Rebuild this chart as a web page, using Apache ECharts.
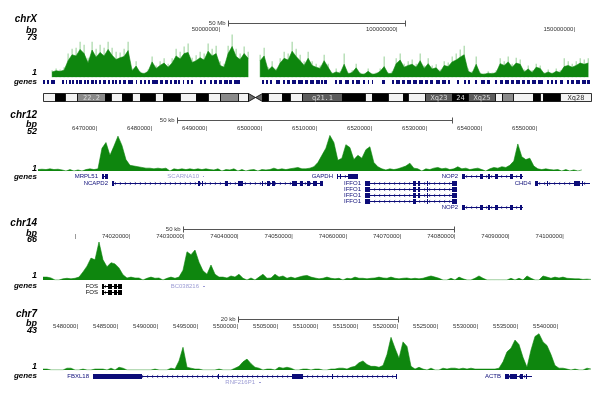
<!DOCTYPE html>
<html><head><meta charset="utf-8">
<script src="https://cdn.jsdelivr.net/npm/echarts@6/dist/echarts.min.js"></script>
<style>html,body{margin:0;padding:0;background:#fff}#c{width:607px;height:395px}</style>
</head><body><div id="c"></div>
<script>
// ---------------- DATA ----------------
// chrX (positions in Mb)
const chrXBinStart = 2.7, chrXBinSize = 1.127;
const chrXDark = [9,11,10,12,28,38,36,47,40,24, 46,34,42,36,47,37,30,33,35,45, 11,19,8,6,10,26,15,20,24,17, 24,36,31,40,42,25,28,33,29,44,
  36,40,20,17,40,52,35,30,40,32, null,null,28,36,12,18,11,24,32,29, 44,35,28,20,32,20,17,15,28,17, 6,9,7,22,6,8,16,6,5,10,
  5,6,10,18,6,7,23,29,17,20, 22,17,28,15,23,14,16,9,20,18, 26,29,34,38,10,7,22,6,5,7, 6,8,23,20,26,17,24,22,9,14,
  8,17,15,6,9,6,10,8,18,20, 17,20,24,22,24];
const chrXLight = [12,15,13,17,40,48,50,60,55,33, 60,48,55,50,60,50,43,42,48,60, 15,27,10,8,13,35,20,27,32,23, 32,48,43,52,57,33,37,43,40,57,
  48,53,27,23,53,72,48,40,52,43, null,null,38,50,17,27,15,32,43,40, 60,48,38,27,43,27,23,20,38,23, 8,15,10,40,8,12,23,8,7,15,
  7,8,15,35,8,10,32,40,23,27, 30,23,40,20,32,20,22,13,27,25, 35,40,47,53,15,10,35,8,7,10, 8,12,32,27,35,23,33,30,13,20,
  12,23,20,8,13,8,15,12,32,27, 23,27,32,30,32];
const chrXTicks = [50, 100, 150];
const chrXScale = [52.25, 102.25, '50 Mb'];
const chrXGeneBlocks = [[0.14,0.7],[1.27,1.83],[2.4,3.5],
  [5.5,6.1],[6.6,6.9],[7.5,8.0],[8.3,8.9],[9.4,10.0],[10.3,11.1],[11.7,12.3],[12.5,13.1],[13.7,14.5],[14.8,15.4],[15.9,16.5],[17.0,17.9],[18.5,19.0],[19.6,20.1],[20.4,21.0],
  [21.5,22.1],[22.7,23.5],[24.1,25.5],[26.3,26.6],
  [27.5,28.0],[28.6,29.2],[29.7,30.3],[30.8,32.5],[33.1,33.9],[34.5,35.4],[35.9,36.5],[37.0,37.9],[38.2,38.7],
  [39.6,39.9],[40.7,41.3],[41.8,42.4],[44.4,44.9],[45.5,46.1],
  [47.2,47.7],[48.3,49.2],[49.7,50.6],[51.1,52.3],[52.5,53.4],[53.9,55.6],
  [61.8,62.4],[62.95,63.5],[64.1,64.6],[65.8,66.9],
  [67.7,68.3],[68.9,69.7],[70.3,71.4],[72.0,73.4],[73.9,74.8],[75.4,76.5],[77.1,78.2],[78.5,78.9],[79.3,80.1],
  [82.4,82.96],[83.5,84.4],[85.2,86.3],[87.2,87.7],[88.3,89.4],
  [90.3,90.8],[91.7,91.97],[92.8,93.1],[95.6,96.5],
  [98.5,99.0],[99.6,100.7],[101.3,102.1],[102.7,103.8],[104.4,105.5],[106.1,107.2],[107.7,108.6],[109.2,110.0],[110.8,112.0],[112.5,113.7],[114.2,114.8],
  [116.8,117.3],[118.7,119.3],[119.9,120.4],[121.8,122.4],[123.5,124.6],[125.2,126.1],
  [127.5,128.0],[128.9,129.7],[130.3,131.4],[132.0,132.8],[133.4,134.5],[135.1,135.9],[136.5,137.3],[137.9,139.0],[139.6,141.0],
  [142.1,142.7],[143.2,143.8],[144.4,144.9],[145.8,146.6],
  [147.7,148.3],[148.9,149.7],[150.3,151.4],[152.0,153.1],[153.4,154.2]];
const chrXBands = [
  [0,3.5,'gneg',''],[3.5,6.3,'gpos100',''],[6.3,9.7,'gneg',''],[9.7,17.6,'gpos50','22.2'],[17.6,19.3,'gpos100',''],
  [19.3,22.4,'gneg',''],[22.4,25.2,'gpos100',''],[25.2,27.5,'gneg',''],[27.5,31.7,'gpos100',''],[31.7,33.9,'gneg',''],
  [33.9,38.7,'gpos100',''],[38.7,43.2,'gneg',''],[43.2,46.6,'gpos100',''],[46.6,50.0,'gneg',''],[50.0,55.1,'gpos50',''],
  [55.1,57.9,'gneg',''],[57.9,61.8,'acen',''],[61.8,63.5,'gpos100',''],[63.5,67.5,'gneg',''],[67.5,69.7,'gpos100',''],
  [69.7,73.1,'gneg',''],[73.1,84.4,'gpos75','q21.1'],[84.4,90.8,'gpos100',''],[90.8,92.8,'gneg',''],[92.8,97.3,'gpos100',''],
  [97.3,101.5,'gneg',''],[101.5,102.9,'gpos100',''],[102.9,107.7,'gneg',''],[107.7,115.4,'gpos75','Xq23'],[115.4,119.9,'gpos100','24'],
  [119.9,127.5,'gpos75','Xq25'],[127.5,129.4,'gneg',''],[129.4,132.5,'gpos50',''],[132.5,138.2,'gneg',''],[138.2,140.1,'gpos100',''],
  [140.1,141.0,'gneg',''],[141.0,145.8,'gpos100',''],[145.8,154.5,'gneg','Xq28']];

// chr12
const chr12BinStart = 6459273, chr12BinSize = 727;
const chr12Vals = [2,2.5,2,3,2,2.5,1.5,0,2,0, 1.5,0,2,3,2,3,32,40,22,35, 49,36,16,8,7,6,5,4,4,3, 4,3,4,0,3,2,3,2,3,2,
  3,2,3,2,1.5,3,0,2,1.5,3, 0,2,0,1.5,2,0,2,1.5,2,4, 2,3,2,3,4,5,3,3,4,6, 12,22,32,50,40,15,18,37,33,16,
  22,18,30,34,12,6,3,1.5,3,2, 3,5,7,11,4,3,0,3,2,4, 5,3,4,2,3,6,3,4,2,3, 4,2,0,3,5,4,6,5,8,14,
  38,20,16,18,7,3,2,3,2,1.5, 2,0,2,0,1.5,0,1.5];
const chr12Ticks = [6470000,6480000,6490000,6500000,6510000,6520000,6530000,6540000,6550000];
const chr12Scale = [6484545, 6534545, '50 kb'];
const chr12Genes = [
  ['MRPL51', 6470909, 6472000, 1, 'b', '-', [[6470909,6471273],[6471455,6472000]]],
  ['SCARNA10', 6489273, 6489500, 1, 'f', '+', []],
  ['NCAPD2', 6472727, 6511091, 2, 'b', '+', [[6472727,6473091],[6488364,6488727],[6489091,6489273],[6493273,6493818],[6495636,6496545],[6500000,6500182],[6500909,6501455],[6501818,6502364],[6505455,6506364],[6506909,6507455],[6508182,6508727],[6509273,6510000],[6510545,6511091]]],
  ['GAPDH', 6513636, 6517455, 1, 'b', '+', [[6513636,6513818],[6514182,6514364],[6515636,6517455]]],
  ['IFFO1', 6518727, 6535455, 2, 'b', '-', [[6518727,6519636],[6527455,6528000],[6528364,6528727],[6530000,6530182],[6534545,6535455]]],
  ['IFFO1', 6518727, 6535455, 3, 'b', '-', [[6518727,6519636],[6527455,6528000],[6528364,6528727],[6530000,6530182],[6534545,6535455]]],
  ['IFFO1', 6518727, 6535455, 4, 'b', '-', [[6518727,6519636],[6527455,6528000],[6528364,6528727],[6530000,6530182],[6534545,6535455]]],
  ['IFFO1', 6518727, 6535455, 5, 'b', '-', [[6518727,6519636],[6527455,6528000],[6530000,6530182],[6534545,6535455]]],
  ['NOP2', 6536364, 6547455, 1, 'b', '-', [[6536364,6536909],[6539636,6540182],[6541091,6541455],[6542364,6542909],[6545091,6545636],[6546909,6547273]]],
  ['NOP2', 6536364, 6547455, 6, 'b', '-', [[6536364,6536909],[6539636,6540182],[6541091,6541455],[6542364,6542909],[6545091,6545636],[6546909,6547273]]],
  ['CHD4', 6549636, 6559636, 2, 'b', '-', [[6549636,6550182],[6551818,6552000],[6556727,6557818],[6558182,6558364]]]
];

// chr14
const chr14BinStart = 74003911, chr14BinSize = 738;
const chr14Vals = [5,5,3.5,0,0,2,3,2,3,5, 14,24,38,35,66,35,23,30,28,21, 9,3.5,5,3.5,3.5,0,3,5,3,3.5, 0,3,5,3,5,17,49,44,52,31,
  16,10,26,10,5,5,3.5,7,5,10, 3,0,3.5,0,5,10,3,3.5,10,5, 7,3,5,3,5,7,8,5,3.5,2, 3,5,3,2,3,0,3,2,5,3,
  3,2,3,3.5,5,3.5,3,5,3,2, 3,3.5,2,3,2,3,5,7,5,3, 0,0,3,0,5,2,0,0,3,7, 3,0,0,0,0,0,0,3,0,3,
  0,7,3,0,0,7,5,3,5,3.5, 5,3,2.5,2,2,1,1.5,1];
const chr14Ticks = [74010000,74020000,74030000,74040000,74050000,74060000,74070000,74080000,74090000,74100000];
const chr14Scale = [74029742, 74079742, '50 kb'];
const chr14Genes = [
  ['FOS', 74014797, 74018487, 1, 'k', '+', [[74014797,74015166],[74015904,74016642],[74017011,74017565],[74017749,74018487]]],
  ['FOS', 74014797, 74018487, 2, 'k', '+', [[74014797,74015166],[74015904,74016642],[74017011,74017565],[74017749,74018487]]],
  ['BC038216', 74033432, 74033800, 1, 'f', '+', []]
];

// chr7
const chr7BinStart = 5475625, chr7BinSize = 500;
const chr7Vals = [1,1,0,0,0,0,2,2,0,0, 1,0,0,1,1,1,0,2,0,3, 2,0,0,0,0,0,0,0,1,0, 0,0,2,1,10,25,3,2,1,1,
  0,0,0,0,1,0,0,0,2,4, 9,12,7,3,2,0,1,1,0,3, 2,3,2,0,0,1,1,0,1,1, 0,0,1,1,2,2,1,3,4,8,
  10,6,4,4,3,5,17,36,24,13, 31,26,4,1,3,1,0,2,0,0, 2,1,2,2,1,2,1,2,1,1, 1,1,1,1,2,9,20,24,33,28,
  14,3,22,37,40,31,27,17,5,2, 2,1,0,1,0,0,2,1];
const chr7Ticks = [5480000,5485000,5490000,5495000,5500000,5505000,5510000,5515000,5520000,5525000,5530000,5535000,5540000];
const chr7Scale = [5500000, 5520000, '20 kb'];
const chr7Genes = [
  ['FBXL18', 5481875, 5519875, 1, 'b', '-', [[5481875,5488000],[5497500,5497625],[5506750,5508125],[5511750,5511875],[5519750,5519875]]],
  ['RNF216P1', 5502625, 5502900, 2, 'f', '-', []],
  ['ACTB', 5533375, 5536750, 1, 'b', '-', [[5533375,5533875],[5534000,5534875],[5535250,5535625],[5536000,5536125]]]
];

// ---------------- RENDERING ----------------
const FONT = '"Liberation Sans", Arial, sans-serif';
const DARK = '#0e860e', LIGHT = '#95cf95';
const GENE_COL = {b:'#0c0c78', k:'#000000', f:'#9c9cd4'};
const STAIN = {gneg:'#f3f3f3', gpos50:'#8a8a8a', gpos75:'#5c5c5c', gpos100:'#000000', acen:'#6a6a6a'};

const panels = [
  {name:'chrX', ymax:73, xmin:0, xmax:155.27, left:42.5, width:551.2, scaleY:22.5, sigTop:34, sigH:43.3, labelY:29.5,
   ticks:chrXTicks, fmt:v=>Math.round(v*1e6)+'|', scale:chrXScale,
   sig:{start:chrXBinStart, size:chrXBinSize, dark:chrXDark, light:chrXLight},
   txt:{name:19, bp:31, max:38, one:73, genes:82}},
  {name:'chr12', ymax:52, xmin:6459273, xmax:6559091, left:38, width:549, scaleY:120, sigTop:134, sigH:37, labelY:128,
   ticks:chr12Ticks, fmt:v=>v+'|', scale:chr12Scale,
   sig:{start:chr12BinStart, size:chr12BinSize, dark:chr12Vals},
   genes:chr12Genes, geneTop:173.45, geneH:36.6, rows:6,
   txt:{name:115, bp:125, max:132, one:168.5, genes:177}},
  {name:'chr14', ymax:66, xmin:74003911, xmax:74105387, left:43, width:550, scaleY:229, sigTop:242, sigH:38, labelY:236.7,
   ticks:chr14Ticks, fmt:v=>(v===chr14Ticks[0]?'|':v+'|'), scale:chr14Scale,
   sig:{start:chr14BinStart, size:chr14BinSize, dark:chr14Vals},
   genes:chr14Genes, geneTop:283.25, geneH:11, rows:2,
   txt:{name:223, bp:234, max:239.5, one:276, genes:286}},
  {name:'chr7', ymax:43, xmin:5475625, xmax:5544375, left:43, width:550, scaleY:319, sigTop:331, sigH:39, labelY:326.5,
   ticks:chr7Ticks, fmt:v=>v+'|', scale:chr7Scale,
   sig:{start:chr7BinStart, size:chr7BinSize, dark:chr7Vals},
   genes:chr7Genes, geneTop:373, geneH:12, rows:2,
   txt:{name:314, bp:324, max:331, one:366.5, genes:376}}
];

const option = {animation:false, grid:[], xAxis:[], yAxis:[], series:[], graphic:[]};

function addGrid(p, top, height, ymin, ymax, inverse, xExtra) {
  const gi = option.grid.length;
  option.grid.push({left:p.left, top:top, width:p.width, height:height, containLabel:false});
  option.xAxis.push(Object.assign({type:'value', gridIndex:gi, min:p.xmin, max:p.xmax, show:false}, xExtra || {}));
  option.yAxis.push({type:'value', gridIndex:gi, min:ymin, max:ymax, inverse:!!inverse, show:false});
  return gi;
}

function crisp(v){ return Math.round(v) + 0.5; }

panels.forEach((p) => {
  // scale bar grid
  const sg = addGrid(p, p.scaleY - 2, 4, 0, 1);
  option.series.push({type:'custom', xAxisIndex:sg, yAxisIndex:sg, silent:true, clip:false,
    data:[[p.scale[0], p.scale[1], 0.5]],
    renderItem:(params, api) => {
      const a = api.coord([api.value(0), 0.5]), b = api.coord([api.value(1), 0.5]);
      const y = crisp(a[1]), x0 = crisp(a[0]), x1 = crisp(b[0]);
      const st = {stroke:'#555', lineWidth:1};
      return {type:'group', children:[
        {type:'line', shape:{x1:x0, y1:y, x2:x1, y2:y}, style:st},
        {type:'line', shape:{x1:x0, y1:y-3, x2:x0, y2:y+3}, style:st},
        {type:'line', shape:{x1:x1, y1:y-3, x2:x1, y2:y+3}, style:st},
        {type:'text', x:x0-3, y:y, style:{text:p.scale[2], font:'6px '+FONT, fill:'#333', align:'right', verticalAlign:'middle', textAlign:'right', textVerticalAlign:'middle'}}
      ]};
    }});

  // signal grid with position labels on top
  const gi = addGrid(p, p.sigTop, p.sigH, 0, p.ymax, false, {
    show:true, position:'top',
    axisLine:{show:false}, axisTick:{show:false}, splitLine:{show:false},
    axisLabel:{show:true, customValues:p.ticks, formatter:p.fmt, align:'right', verticalAlign:'middle',
      margin:p.sigTop - p.labelY, fontSize:6, color:'#333', fontFamily:FONT}
  });
  const s = p.sig;
  if (s.light) {
    option.series.push({type:'bar', xAxisIndex:gi, yAxisIndex:gi, silent:true, barWidth:1, itemStyle:{color:LIGHT},
      data:s.light.map((v,i)=>[s.start + i*s.size, v==null?'-':v])});
  }
  option.series.push({type:'line', xAxisIndex:gi, yAxisIndex:gi, silent:true, symbol:'none', connectNulls:false,
    lineStyle:{width:0.6, color:DARK}, areaStyle:{color:DARK, opacity:1},
    data:s.dark.map((v,i)=>[s.start + i*s.size, v==null?'-':v])});

  // left labels
  const T = p.txt;
  const txt = (text, y, size) => ({type:'text', x:37, y:y, silent:true,
    style:{text:text, font:'italic bold '+size+'px '+FONT, fill:'#000', align:'right', verticalAlign:'middle', textAlign:'right', textVerticalAlign:'middle'}});
  option.graphic.push(txt(p.name, T.name, 10), txt('bp', T.bp, 9), txt(String(p.ymax), T.max, 9), txt('1', T.one, 9), txt('genes', T.genes, 8));

  if (p.name === 'chrX') {
    // gene blocks
    const gg = addGrid(p, 80, 4, 0, 1);
    option.series.push({type:'custom', xAxisIndex:gg, yAxisIndex:gg, silent:true, clip:false,
      data:chrXGeneBlocks.map(b=>[b[0], b[1], 0.5]),
      renderItem:(params, api) => {
        const a = api.coord([api.value(0), 1]), b = api.coord([api.value(1), 0]);
        const x0 = Math.round(a[0]);
        const w = Math.max(1, Math.round(b[0]) - x0);
        return {type:'rect', shape:{x:x0, y:a[1], width:w, height:b[1]-a[1]}, style:{fill:GENE_COL.b}};
      }});
    // ideogram
    const ig = addGrid(p, 92.5, 8.5, 0, 1);
    option.series.push({type:'custom', xAxisIndex:ig, yAxisIndex:ig, silent:true, clip:false,
      data:chrXBands.map((b,i)=>[b[0], b[1], 0.5, i]),
      renderItem:(params, api) => {
        const b = chrXBands[params.dataIndex];
        const a = api.coord([b[0], 1]), c = api.coord([b[1], 0]);
        const x0 = Math.round(a[0]) + 0.5, x1 = Math.round(c[0]) + 0.5, yt = crisp(a[1]), yb = crisp(c[1]);
        if (b[2] === 'acen') {
          const xm = (x0 + x1)/2, ym = (yt + yb)/2;
          return {type:'group', children:[
            {type:'polygon', shape:{points:[[x0,yt],[xm,ym],[x0,yb]]}, style:{fill:STAIN.acen, stroke:'#000', lineWidth:0.8}},
            {type:'polygon', shape:{points:[[x1,yt],[xm,ym],[x1,yb]]}, style:{fill:STAIN.acen, stroke:'#000', lineWidth:0.8}}
          ]};
        }
        const ch = [{type:'rect', shape:{x:x0, y:yt, width:x1-x0, height:yb-yt}, style:{fill:STAIN[b[2]], stroke:'#000', lineWidth:0.8}}];
        if (b[3]) ch.push({type:'text', x:(x0+x1)/2, y:(yt+yb)/2+0.5,
          style:{text:b[3], font:'7px "DejaVu Sans Mono", monospace', fill:b[2]==='gneg'?'#333':'#d8d8d8', align:'center', verticalAlign:'middle', textAlign:'center', textVerticalAlign:'middle'}});
        return {type:'group', children:ch};
      }});
  } else {
    const genes = p.genes;
    const gg = addGrid(p, p.geneTop, p.geneH, 0.5, p.rows + 0.5, true);
    option.series.push({type:'custom', xAxisIndex:gg, yAxisIndex:gg, silent:true, clip:false,
      encode:{x:[0,1], y:2},
      data:genes.map((g,i)=>[g[1], g[2], g[3], i]),
      renderItem:(params, api) => {
        const g = genes[params.dataIndex];
        const col = GENE_COL[g[4]];
        const a = api.coord([g[1], g[3]]), b = api.coord([g[2], g[3]]);
        const y = crisp(a[1]);
        const x0 = Math.round(a[0]), x1 = Math.max(Math.round(b[0]), x0 + 1);
        const ch = [];
        ch.push({type:'line', shape:{x1:x0, y1:y, x2:x1, y2:y}, style:{stroke:col, lineWidth:1}});
        if (x1 - x0 > 8) {
          const d = g[5] === '+' ? 1 : -1;
          for (let x = x0 + 4; x < x1 - 3; x += 5) {
            ch.push({type:'polyline', shape:{points:[[x - d*1.2, y-1.6],[x + d*0.4, y],[x - d*1.2, y+1.6]]}, style:{stroke:col, lineWidth:0.6, fill:null}});
          }
        }
        g[6].forEach(e => {
          const ea = api.coord([e[0], g[3]])[0], eb = api.coord([e[1], g[3]])[0];
          const ex = Math.round(ea), ew = Math.max(1, Math.round(eb) - ex);
          ch.push({type:'rect', shape:{x:ex, y:y-2.5, width:ew, height:5}, style:{fill:col}});
        });
        ch.push({type:'text', x:x0 - 4, y:y, style:{text:g[0], font:'6px '+FONT, fill:col, align:'right', verticalAlign:'middle', textAlign:'right', textVerticalAlign:'middle'}});
        return {type:'group', children:ch};
      }});
  }
});

const chart = echarts.init(document.getElementById('c'), null, {renderer:'canvas'});
chart.setOption(option);
</script></body></html>
